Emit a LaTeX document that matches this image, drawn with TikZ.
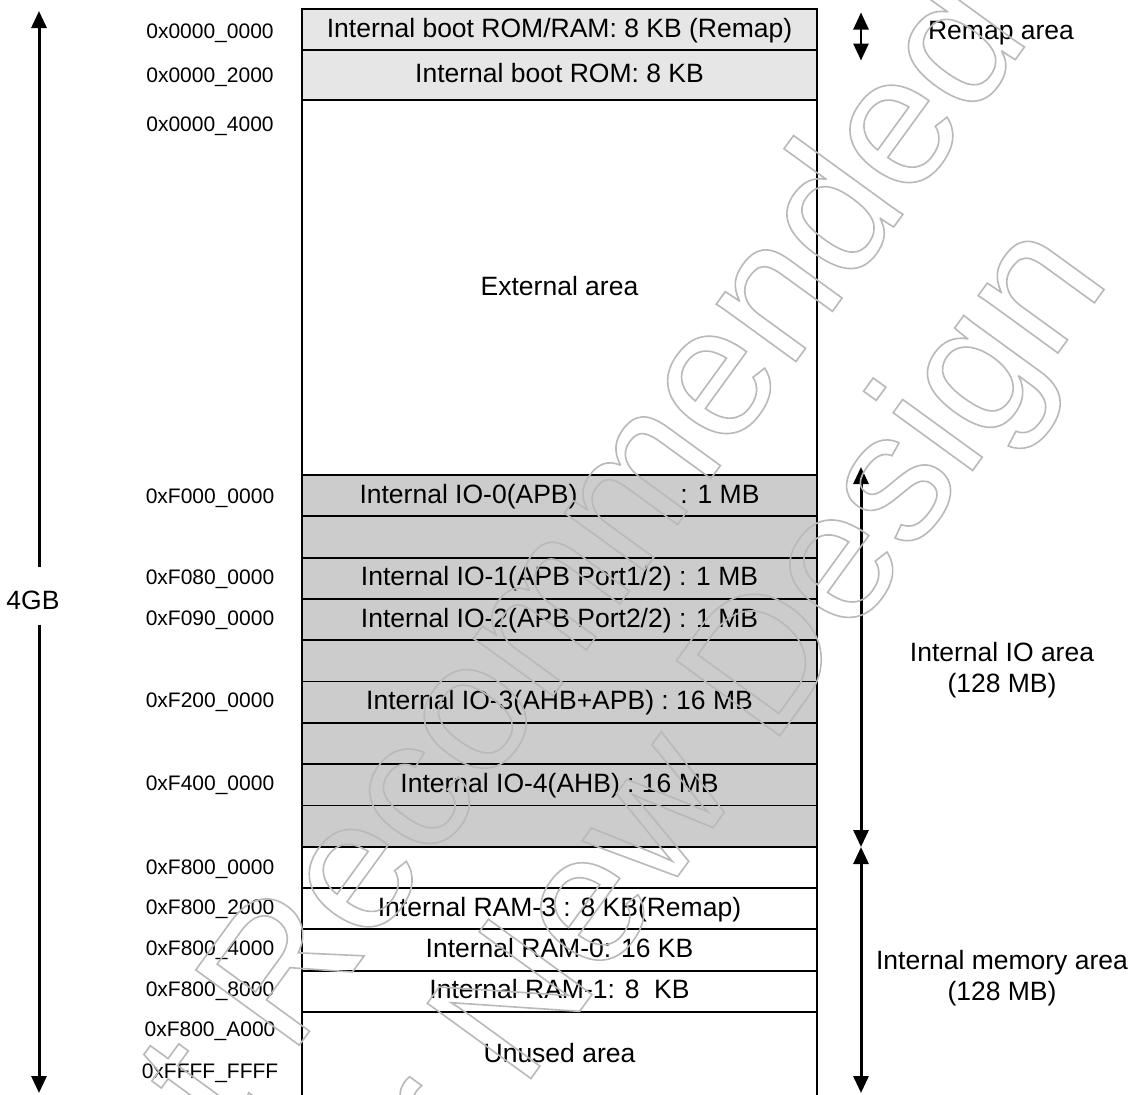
\documentclass[tikz,border=0pt]{standalone}
\usepackage{fontspec}
\setmainfont{Liberation Sans}
\usetikzlibrary{arrows.meta}
\definecolor{lightrow}{RGB}{230,230,230}
\definecolor{iorow}{RGB}{204,204,204}
\definecolor{wmgray}{RGB}{185,185,185}
\newcommand\wmoutline[1]{\special{pdf:literal direct 1 Tr 1.6 w}#1\special{pdf:literal direct 0 Tr}}
\begin{document}
\begin{tikzpicture}[x=1pt,y=-1pt,
  rowbox/.style={draw, line width=1.8pt, inner sep=0pt, minimum width=515pt,
    text height=19pt, text depth=4pt, font=\fontsize{26.5}{30}\selectfont},
  hexlbl/.style={anchor=base, inner sep=0pt, font=\fontsize{21}{25}\selectfont},
  sidelbl/.style={anchor=base, inner sep=0pt, font=\fontsize{26.5}{30}\selectfont},
  dblarrow/.style={line width=3pt, {Triangle[length=17pt,width=15pt]}-{Triangle[length=17pt,width=15pt]}},
  sglarrow/.style={line width=3pt, -{Triangle[length=17pt,width=15pt]}},
  wm/.style={anchor=base west, rotate=54, inner sep=0pt, text=wmgray,
    font=\fontsize{186}{220}\selectfont}
]
\fill[white] (0,0) rectangle (1136,1095);
\useasboundingbox (0,0) rectangle (1136,1095);

% memory map rows
\node[rowbox, fill=lightrow, minimum height=41pt]   (r1)   at (559.5,29.5)   {Internal boot ROM/RAM: 8 KB (Remap)};
\node[rowbox, fill=lightrow, minimum height=50pt]   (r2)   at (559.5,75)     {Internal boot ROM: 8 KB};
\node[rowbox, fill=white,    minimum height=375pt]  (ext)  at (559.5,287.5)  {External area};
\node[rowbox, fill=iorow,    minimum height=41.3pt] (io0)  at (559.5,495.65) {Internal IO-0(APB)\hspace*{103pt}: 1 MB};
\node[rowbox, fill=iorow,    minimum height=41.3pt] (g1)   at (559.5,536.95) {};
\node[rowbox, fill=iorow,    minimum height=41.3pt] (io1)  at (559.5,578.25) {Internal IO-1(APB Port1/2) : 1 MB};
\node[rowbox, fill=iorow,    minimum height=41.3pt] (io2)  at (559.5,619.55) {Internal IO-2(APB Port2/2) : 1 MB};
\node[rowbox, fill=iorow,    minimum height=41.3pt] (g2)   at (559.5,660.85) {};
\node[rowbox, fill=iorow,    minimum height=41.3pt] (io3)  at (559.5,702.15) {Internal IO-3(AHB+APB) : 16 MB};
\node[rowbox, fill=iorow,    minimum height=41.3pt] (g3)   at (559.5,743.45) {};
\node[rowbox, fill=iorow,    minimum height=41.3pt] (io4)  at (559.5,784.75) {Internal IO-4(AHB) : 16 MB};
\node[rowbox, fill=iorow,    minimum height=41.3pt] (g4)   at (559.5,826.05) {};
\node[rowbox, fill=white,    minimum height=41.3pt] (w1)   at (559.5,867.35) {};
\node[rowbox, fill=white,    minimum height=41.3pt] (ram3) at (559.5,908.65) {Internal RAM-3 : 8 KB(Remap)};
\node[rowbox, fill=white,    minimum height=41.3pt] (ram0) at (559.5,949.95) {Internal RAM-0: 16 KB};
\node[rowbox, fill=white,    minimum height=41.3pt] (ram1) at (559.5,991.25) {Internal RAM-1: 8\ \ KB};
\node[rowbox, fill=white,    minimum height=86.1pt] (unus) at (559.5,1054.95) {Unused area};

% address labels
\node[hexlbl] (a1)  at (210,38.5)   {0x0000\_0000};
\node[hexlbl] (a2)  at (210,82.5)   {0x0000\_2000};
\node[hexlbl] (a3)  at (210,131.5)  {0x0000\_4000};
\node[hexlbl] (a4)  at (210,503.5)  {0xF000\_0000};
\node[hexlbl] (a5)  at (210,584.5)  {0xF080\_0000};
\node[hexlbl] (a6)  at (210,625.5)  {0xF090\_0000};
\node[hexlbl] (a7)  at (210,707.5)  {0xF200\_0000};
\node[hexlbl] (a8)  at (210,790.5)  {0xF400\_0000};
\node[hexlbl] (a9)  at (210,874.5)  {0xF800\_0000};
\node[hexlbl] (a10) at (210,914.5)  {0xF800\_2000};
\node[hexlbl] (a11) at (210,955.5)  {0xF800\_4000};
\node[hexlbl] (a12) at (210,996.5)  {0xF800\_8000};
\node[hexlbl] (a13) at (210,1036.5) {0xF800\_A000};
\node[hexlbl] (a14) at (210,1078.5) {0xFFFF\_FFFF};

% left 4GB arrow
\node[sidelbl] (gb) at (33,609.5) {4GB};
\coordinate (lT) at (39,11);
\coordinate (lB) at (39,1093);
\coordinate (gapT) at (39,567);
\coordinate (gapB) at (39,625);
\draw[sglarrow] (gapT) -- (lT);
\draw[sglarrow] (gapB) -- (lB);

% right arrows
\coordinate (rmT) at (861,12.5);
\coordinate (rmB) at (861,60.5);
\coordinate (ioT) at (861,467);
\coordinate (ioB) at (861,847);
\coordinate (memB) at (861,1093);
\draw[dblarrow, line width=2.7pt] (rmT) -- (rmB);
\draw[dblarrow] (ioT) -- (ioB);
\draw[dblarrow] (ioB) -- (memB);

% right labels
\node[sidelbl] (rml)  at (1001,39.5)  {Remap area};
\node[sidelbl] (iol1) at (1002,661)   {Internal IO area};
\node[sidelbl] (iol2) at (1002,692.5) {(128 MB)};
\node[sidelbl] (mml1) at (1002,969)   {Internal memory area};
\node[sidelbl] (mml2) at (1002,1000.5){(128 MB)};

% watermark (outlined text)
\begin{scope}
\clip (0,0) rectangle (1136,1095);
\node[wm] (wmA) at (89.8,1333.5) {\wmoutline{Not Recommended}};
\node[wm] (wmB) at (363.9,1308.3) {\wmoutline{for New Design}};
\end{scope}
\end{tikzpicture}
\end{document}
